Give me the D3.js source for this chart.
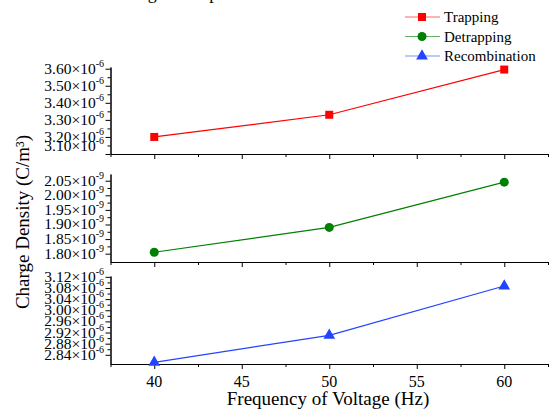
<!DOCTYPE html>
<html><head><meta charset="utf-8">
<script src="https://cdn.jsdelivr.net/npm/d3@7"></script>
</head><body><svg id="c" width="549" height="411"></svg>
<script>
const frequencies = [40, 50, 60];
const trapping = [3.20e-6, 3.33e-6, 3.595e-6];
const detrapping = [1.805e-9, 1.89e-9, 2.045e-9];
const recombination = [2.813e-6, 2.91e-6, 3.087e-6];
const seriesNames = ["Trapping", "Detrapping", "Recombination"];
const seriesColors = ["#ff0000", "#008000", "#2244ff"];
const xTicks = [40, 45, 50, 55, 60];
const yTicks1 = [3.10, 3.20, 3.30, 3.40, 3.50, 3.60];
const yTicks2 = [1.80, 1.85, 1.90, 1.95, 2.00, 2.05];
const yTicks3 = [2.84, 2.88, 2.92, 2.96, 3.00, 3.04, 3.08, 3.12];

const FONT = "'Times New Roman'";
d3.select("body").style("margin", "0px");
const svg = d3.select("#c");
const x = d3.scaleLinear().domain([37.5, 62.5]).range([110.5, 548]);

const panels = [
  {data: trapping, exp: -6, domain: [3.10, 3.61], range: [154, 67], ticks: yTicks1, step: 0.05, marker: d3.symbolSquare, size: 64},
  {data: detrapping, exp: -9, domain: [1.7715, 2.073], range: [262, 174], ticks: yTicks2, step: 0.025, marker: d3.symbolCircle, size: 64},
  {data: recombination, exp: -6, domain: [2.807, 3.123], range: [364, 276], ticks: yTicks3, step: 0.02, marker: d3.symbolTriangle, size: 60}
];

function addText(g, x0, y0, str, size, anchor) {
  return g.append("text").attr("x", x0).attr("y", y0).style("font-family", FONT).attr("font-size", size + "px")
    .attr("text-anchor", anchor || "start").attr("fill", "#000").text(str);
}

panels.forEach((p, i) => {
  const scale = Math.pow(10, -p.exp);
  const y = d3.scaleLinear().domain(p.domain).range(p.range);
  const yb = p.range[0];
  svg.append("g").attr("transform", `translate(0,${yb})`)
    .call(d3.axisBottom(x).tickValues(xTicks).tickSize(5).tickSizeOuter(0).tickFormat(""));
  svg.append("g").attr("transform", `translate(0,${yb})`)
    .call(d3.axisBottom(x).tickValues(d3.range(37.5, 62.6, 5)).tickSize(3).tickSizeOuter(0).tickFormat(""));
  if (i === 2) {
    xTicks.forEach(v => addText(svg, x(v), yb + 23, String(v), 16, "middle"));
  }
  svg.append("g").attr("transform", `translate(110.5,0)`)
    .call(d3.axisLeft(y).tickValues(p.ticks).tickSize(5).tickSizeOuter(0).tickFormat(""));
  svg.append("g").attr("transform", `translate(110.5,0)`)
    .call(d3.axisLeft(y).tickValues(p.ticks.map(v => v + p.step).filter(v => v <= p.domain[1])).tickSize(3).tickSizeOuter(0).tickFormat(""));
  p.ticks.forEach((v, k) => {
    const off = (i === 0 && k === 0) ? -8 : 0;
    const t = addText(svg, 104, y(v) + 5 + off, null, 15.5, "end");
    t.append("tspan").text(v.toFixed(2) + "×10");
    t.append("tspan").attr("dy", -7).attr("font-size", "10px").text(String(p.exp));
  });
  const line = d3.line().x((d, k) => x(frequencies[k])).y(d => y(d * scale));
  svg.append("path").datum(p.data).attr("d", line).attr("fill", "none").attr("stroke", seriesColors[i]).attr("stroke-width", 1.2);
  svg.append("g").selectAll("path").data(p.data).join("path")
    .attr("transform", (d, k) => `translate(${x(frequencies[k])},${y(d * scale)})`)
    .attr("d", d3.symbol().type(p.marker).size(p.size)).attr("fill", seriesColors[i]);
});
svg.selectAll(".domain").attr("stroke", "#000");

const lg = svg.append("g");
seriesNames.forEach((n, i) => {
  const yy = 17 + i * 19.5;
  lg.append("line").attr("x1", 405).attr("x2", 440).attr("y1", yy).attr("y2", yy).attr("stroke", seriesColors[i]).attr("stroke-opacity", 0.6).attr("stroke-width", 1.2);
  lg.append("path").attr("transform", `translate(422,${yy})`).attr("d", d3.symbol().type(panels[i].marker).size(panels[i].size)).attr("fill", seriesColors[i]);
  addText(lg, 444, yy + 5, n, 15);
});

addText(svg, 113, -1, "Charge Transport", 18);
addText(svg, 328, 405, "Frequency of Voltage (Hz)", 19, "middle");
addText(svg, 0, 0, "Charge Density (C/m³)", 19, "middle").attr("transform", "translate(29,222) rotate(-90)");
</script></body></html>
